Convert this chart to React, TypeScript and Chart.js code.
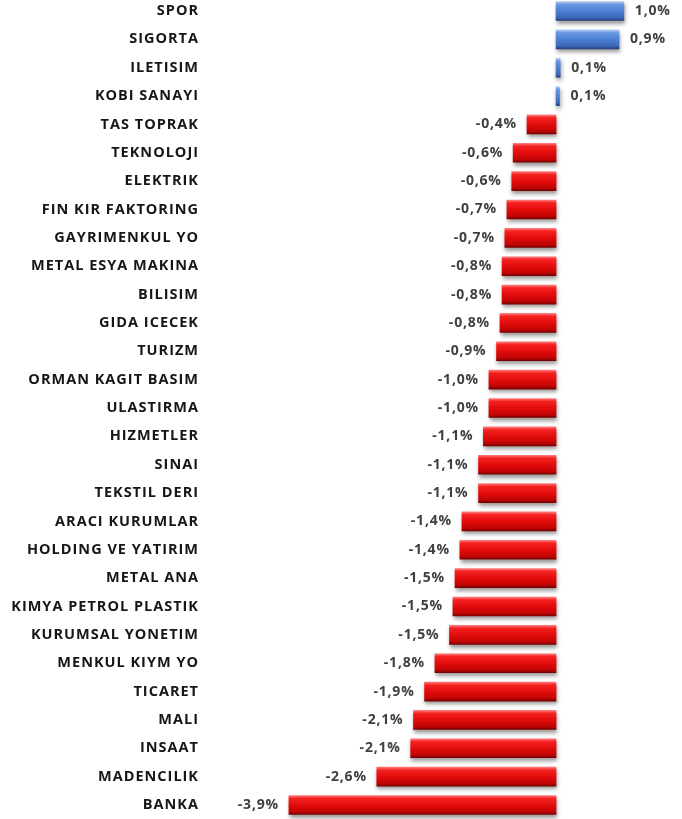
import React, { useEffect, useRef } from "react";
import { Chart, registerables } from "chart.js";

Chart.register(...registerables);

const categories = [
  "SPOR", "SIGORTA", "ILETISIM", "KOBI SANAYI", "TAS TOPRAK", "TEKNOLOJI", "ELEKTRIK",
  "FIN KIR FAKTORING", "GAYRIMENKUL YO", "METAL ESYA MAKINA", "BILISIM", "GIDA ICECEK",
  "TURIZM", "ORMAN KAGIT BASIM", "ULASTIRMA", "HIZMETLER", "SINAI", "TEKSTIL DERI",
  "ARACI KURUMLAR", "HOLDING VE YATIRIM", "METAL ANA", "KIMYA PETROL PLASTIK",
  "KURUMSAL YONETIM", "MENKUL KIYM YO", "TICARET", "MALI", "INSAAT", "MADENCILIK", "BANKA",
];

const values = [
  0.98, 0.91, 0.06, 0.05, -0.42, -0.62, -0.64, -0.71, -0.74, -0.78, -0.78, -0.81,
  -0.86, -0.97, -0.97, -1.05, -1.12, -1.12, -1.36, -1.39, -1.46, -1.49, -1.54,
  -1.75, -1.9, -2.06, -2.1, -2.59, -3.86,
];

const BAR_H = 19;
const FONT = "'Open Sans'";

function fmt(v: number) {
  return v.toFixed(1).replace(".", ",") + "%";
}

export default function App() {
  const ref = useRef<HTMLCanvasElement | null>(null);
  useEffect(() => {
    if (!ref.current) return;
    const shadowPlugin = {
      id: "shadowPlugin",
      beforeDraw(chart: any) {
        chart.ctx.letterSpacing = "1px";
      },
      afterDraw(chart: any) {
        chart.ctx.letterSpacing = "0px";
      },
      beforeDatasetDraw(chart: any) {
        const ctx = chart.ctx;
        ctx.save();
        ctx.shadowColor = "rgba(0,0,0,0.4)";
        ctx.shadowBlur = 4;
        ctx.shadowOffsetX = 1;
        ctx.shadowOffsetY = 3;
      },
      afterDatasetDraw(chart: any) {
        chart.ctx.restore();
      },
      afterDatasetsDraw(chart: any) {
        const ctx = chart.ctx;
        const meta = chart.getDatasetMeta(0);
        ctx.save();
        ctx.letterSpacing = "0.8px";
        ctx.font = "bold 14px " + FONT;
        ctx.fillStyle = "#404040";
        ctx.textBaseline = "middle";
        meta.data.forEach((el: any, i: number) => {
          const v = values[i];
          if (v >= 0) {
            ctx.textAlign = "left";
            ctx.fillText(fmt(v), el.x + 11, el.y);
          } else {
            ctx.textAlign = "right";
            ctx.fillText(fmt(v), el.x - 10, el.y);
          }
        });
        ctx.restore();
      },
    };

    const grad = (c: any) => {
      const chart = c.chart;
      const v = values[c.dataIndex];
      const fallback = v < 0 ? "#e00a0a" : "#4a7ed6";
      const ys = chart.scales && chart.scales.y;
      if (!ys || v === undefined) return fallback;
      const y = ys.getPixelForValue(c.dataIndex);
      if (!Number.isFinite(y)) return fallback;
      const g = chart.ctx.createLinearGradient(0, y - BAR_H / 2, 0, y + BAR_H / 2);
      if (v < 0) {
        g.addColorStop(0, "#ff7a7a");
        g.addColorStop(0.15, "#f52222");
        g.addColorStop(0.5, "#e30c0c");
        g.addColorStop(0.85, "#c20404");
        g.addColorStop(1, "#780000");
      } else {
        g.addColorStop(0, "#b4cdf2");
        g.addColorStop(0.15, "#6a98e2");
        g.addColorStop(0.5, "#4d7fd4");
        g.addColorStop(0.85, "#3b68b8");
        g.addColorStop(1, "#223f78");
      }
      return g;
    };

    const chart = new Chart(ref.current, {
      type: "bar",
      data: {
        labels: categories,
        datasets: [
          {
            data: values,
            backgroundColor: grad as any,
            borderWidth: 0,
            barThickness: BAR_H,
            clip: false as any,
          },
        ],
      },
      options: {
        indexAxis: "y",
        animation: false,
        responsive: false,
        maintainAspectRatio: false,
        layout: { padding: { top: 11, bottom: 14, left: 0, right: 0 } },
        plugins: { legend: { display: false }, tooltip: { enabled: false } },
        scales: {
          x: { display: false, min: -5, max: 1.82 },
          y: {
            offset: false,
            grid: { display: false, drawTicks: false },
            border: { display: false },
            afterFit: (s: any) => {
              s.width = 210;
              s.paddingTop = 0;
              s.paddingBottom = 0;
            },
            ticks: {
              padding: 11,
              color: "#161616",
              font: { family: FONT, weight: "bold", size: 14.5 },
              autoSkip: false,
            },
          },
        },
      },
      plugins: [shadowPlugin],
    });
    return () => chart.destroy();
  }, []);
  return (
    <div style={{ position: "absolute", left: 0, top: 0, width: 682, height: 819, background: "#fff" }}>
      <canvas ref={ref} width={682} height={819} style={{ display: "block" }} />
    </div>
  );
}
